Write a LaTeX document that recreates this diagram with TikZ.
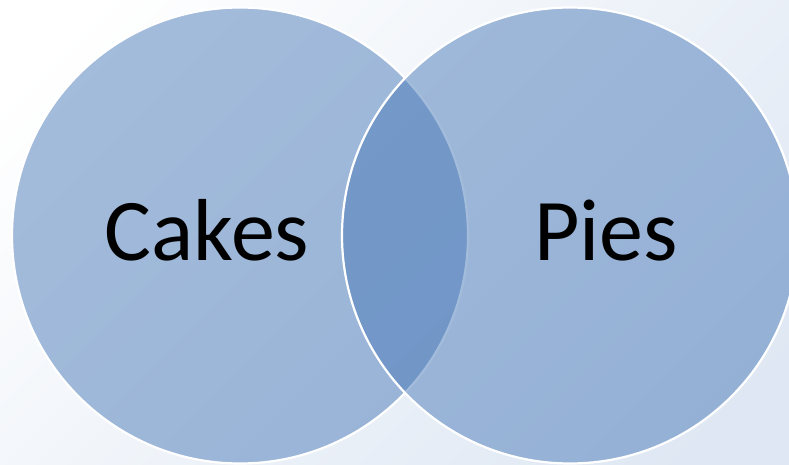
\documentclass[tikz,border=0pt]{standalone}
\usepackage{fontspec}
\setmainfont{Carlito}
\definecolor{setblue}{RGB}{75,123,185}
\definecolor{bgblue}{RGB}{222,231,243}
\begin{document}
\begin{tikzpicture}[x=1pt, y=-1pt,
		set/.style = {circle, minimum size=456pt, inner sep=0pt, draw=white, line width=2.2pt, fill=setblue, fill opacity=0.5},
		label/.style = {anchor=base, font=\fontsize{88}{100}\selectfont, text=black}]

		\useasboundingbox (0,0) rectangle (789,465);
		\clip (0,0) rectangle (789,465);
		\shade[top color=white, bottom color=bgblue, shading angle=45] (-60,-60) rectangle (849,525);

		\node[set] (cakes) at (240,235.5) {};
		\node[set] (pies) at (570,235.5) {};

		\node[label] (t1) at (207,260) {Cakes};
		\node[label] (t2) at (606,260) {Pies};
	\end{tikzpicture}
\end{document}
